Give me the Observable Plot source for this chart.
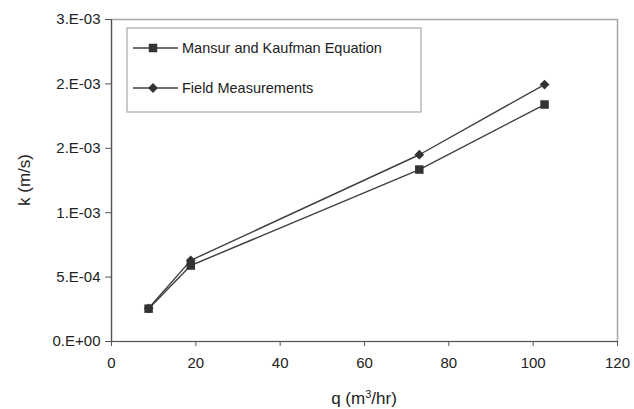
<!DOCTYPE html>
<html>
<head>
<meta charset="utf-8">
<script src="https://cdn.jsdelivr.net/npm/d3@7"></script>
<script src="https://cdn.jsdelivr.net/npm/@observablehq/plot@0.6"></script>
<style>
  html, body { margin: 0; padding: 0; background: white; }
</style>
</head>
<body>
<div id="chart"></div>
<script>
const q = [8.8, 18.8, 73, 102.7];
const kMansur = [0.000255, 0.00059, 0.001335, 0.00184];
const kField = [0.000258, 0.00063, 0.00145, 0.001995];
const seriesNames = ["Mansur and Kaufman Equation", "Field Measurements"];
const xTicks = [0, 20, 40, 60, 80, 100, 120];
const yTicks = [0, 0.0005, 0.001, 0.0015, 0.002, 0.0025];
const yTickLabels = ["0.E+00", "5.E-04", "1.E-03", "2.E-03", "2.E-03", "3.E-03"];
const yTitle = "k (m/s)";

const mansur = q.map((x, i) => ({q: x, k: kMansur[i]}));
const field = q.map((x, i) => ({q: x, k: kField[i]}));

const lineColor = "#404040";
const markColor = "#333";
const font = "'Liberation Sans', Arial, sans-serif";

const chart = Plot.plot({
  width: 634,
  height: 409,
  marginLeft: 111,
  marginRight: 17,
  marginTop: 19,
  marginBottom: 68,
  style: {fontFamily: font, fontSize: "15px", color: "#222", background: "white", overflow: "visible"},
  x: {domain: [0, 120]},
  y: {domain: [0, 0.0025]},
  marks: [
    Plot.frame({stroke: "#a8a8a8", strokeWidth: 1.5}),
    Plot.ruleX([0], {stroke: "#555", strokeWidth: 1.2}),
    Plot.ruleY([0], {stroke: "#555", strokeWidth: 1.2}),
    Plot.axisX({ticks: xTicks, tickSize: 5, tickPadding: 11, label: null, fontSize: 15, stroke: "#555"}),
    Plot.axisY({ticks: yTicks, tickFormat: d => yTickLabels[yTicks.indexOf(d)], tickSize: 6, tickPadding: 5, label: null, fontSize: 15, stroke: "#555"}),
    Plot.line(mansur, {x: "q", y: "k", stroke: lineColor, strokeWidth: 1.4}),
    Plot.line(field, {x: "q", y: "k", stroke: lineColor, strokeWidth: 1.4}),
    Plot.dot(mansur, {x: "q", y: "k", symbol: "square", r: 4.8, fill: markColor, stroke: "none"}),
    Plot.dot(field, {x: "q", y: "k", symbol: "diamond2", r: 4.4, fill: markColor, stroke: "none"})
  ]
});

const svg = d3.select(chart);

// Axis titles
const xt = svg.append("text")
  .attr("x", 111 + (634 - 111 - 17) / 2).attr("y", 398).attr("dy", "0.35em")
  .attr("text-anchor", "middle").attr("font-family", font).attr("font-size", 17).attr("fill", "#222");
xt.append("tspan").text("q (m");
xt.append("tspan").attr("font-size", 11).attr("dy", "-0.55em").text("3");
xt.append("tspan").attr("dy", "0.35em").text("/hr)");

svg.append("text")
  .attr("transform", `translate(24,${19 + (409 - 19 - 68) / 2}) rotate(-90)`)
  .attr("dy", "0.35em").attr("text-anchor", "middle")
  .attr("font-family", font).attr("font-size", 17).attr("fill", "#222").text(yTitle);

// Legend box
const lg = svg.append("g").attr("transform", "translate(127,28)");
lg.append("rect").attr("width", 294).attr("height", 84).attr("fill", "white").attr("stroke", "#a8a8a8").attr("stroke-width", 1.2);
const symbols = [d3.symbolSquare, d3.symbolDiamond2];
const sizes = [4.8, 4.4];
seriesNames.forEach((name, i) => {
  const yy = 20 + i * 40;
  lg.append("line").attr("x1", 6).attr("x2", 51).attr("y1", yy).attr("y2", yy).attr("stroke", lineColor).attr("stroke-width", 1.4);
  lg.append("path").attr("d", d3.symbol(symbols[i], sizes[i] * sizes[i] * Math.PI)()).attr("transform", `translate(26,${yy})`).attr("fill", markColor);
  lg.append("text").attr("x", 55).attr("y", yy).attr("dy", "0.35em").attr("text-anchor", "start")
    .attr("font-family", font).attr("font-size", 14.5).attr("fill", "#222").text(name);
});

document.getElementById("chart").appendChild(chart);
</script>
</body>
</html>
